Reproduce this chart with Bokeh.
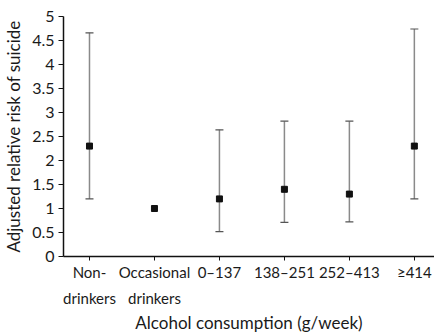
from bokeh.plotting import figure
from bokeh.models import ColumnDataSource, Whisker, FixedTicker, TeeHead
from bokeh.embed import file_html
from bokeh.resources import INLINE

categories = ["Non-\ndrinkers", "Occasional\ndrinkers", "0\u2013137", "138\u2013251", "252\u2013413", "\u2265414"]
risk = [2.3, 1.0, 1.2, 1.4, 1.3, 2.3]
lower = [1.2, None, 0.52, 0.71, 0.72, 1.2]
upper = [4.66, None, 2.64, 2.82, 2.82, 4.74]
y_ticks = [0, 0.5, 1, 1.5, 2, 2.5, 3, 3.5, 4, 4.5, 5]
y_tick_labels = ["0", "0.5", "1", "1.5", "2", "2.5", "3", "3.5", "4", "4.5", "5"]

xs = list(range(1, len(categories) + 1))

FONT = "Lato"
TXT = "#1a1a1a"

p = figure(frame_width=371, frame_height=240, output_backend="svg", toolbar_location=None,
           x_range=(0.6, 6.31), y_range=(0, 5),
           min_border_left=62, min_border_right=0, min_border_top=16, min_border_bottom=0)
p.outline_line_color = None
p.xgrid.grid_line_color = None
p.ygrid.grid_line_color = None

# whiskers (only where CI exists)
wx = [x for x, lo in zip(xs, lower) if lo is not None]
wlo = [lo for lo in lower if lo is not None]
whi = [hi for hi in upper if hi is not None]
wsrc = ColumnDataSource(dict(x=wx, lower=wlo, upper=whi))
w = Whisker(base="x", lower="lower", upper="upper", source=wsrc,
            line_color="#8a8a8a", line_width=1.5,
            upper_head=TeeHead(size=8, line_color="#555555", line_width=1.2),
            lower_head=TeeHead(size=8, line_color="#555555", line_width=1.2))
p.add_layout(w)

src = ColumnDataSource(dict(x=xs, y=risk))
p.scatter("x", "y", source=src, marker="square", size=6, color="#111111")

# x axis
p.xaxis.ticker = FixedTicker(ticks=xs)
p.xaxis.major_label_overrides = {x: c for x, c in zip(xs, categories)}
p.xaxis.axis_label = "Alcohol consumption (g/week)"
p.xaxis.minor_tick_line_color = None
p.xaxis.major_tick_out = 4
p.xaxis.major_tick_in = 0
p.xaxis.major_label_standoff = 2
p.xaxis.axis_label_standoff = 2
p.xaxis.major_label_text_line_height = 1.45
p.xaxis.major_label_text_font_size = "15px"

# y axis
p.yaxis.ticker = FixedTicker(ticks=y_ticks)
p.yaxis.major_label_overrides = {t: l for t, l in zip(y_ticks, y_tick_labels)}
p.yaxis.axis_label = "Adjusted relative risk of suicide"
p.yaxis.minor_tick_line_color = None
p.yaxis.major_tick_out = 5
p.yaxis.major_tick_in = 0
p.yaxis.major_label_standoff = 4
p.yaxis.axis_label_standoff = 5
p.yaxis.major_label_text_font_size = "16px"

for ax in (p.xaxis, p.yaxis):
    ax.axis_line_color = "#111111"
    ax.axis_line_width = 1.5
    ax.major_tick_line_color = "#111111"
    ax.major_label_text_font = FONT
    ax.major_label_text_color = TXT
    ax.axis_label_text_font = FONT
    ax.axis_label_text_font_size = "17px"
    ax.axis_label_text_font_style = "normal"
    ax.axis_label_text_color = TXT

open("out.html", "w").write(file_html(p, INLINE))
